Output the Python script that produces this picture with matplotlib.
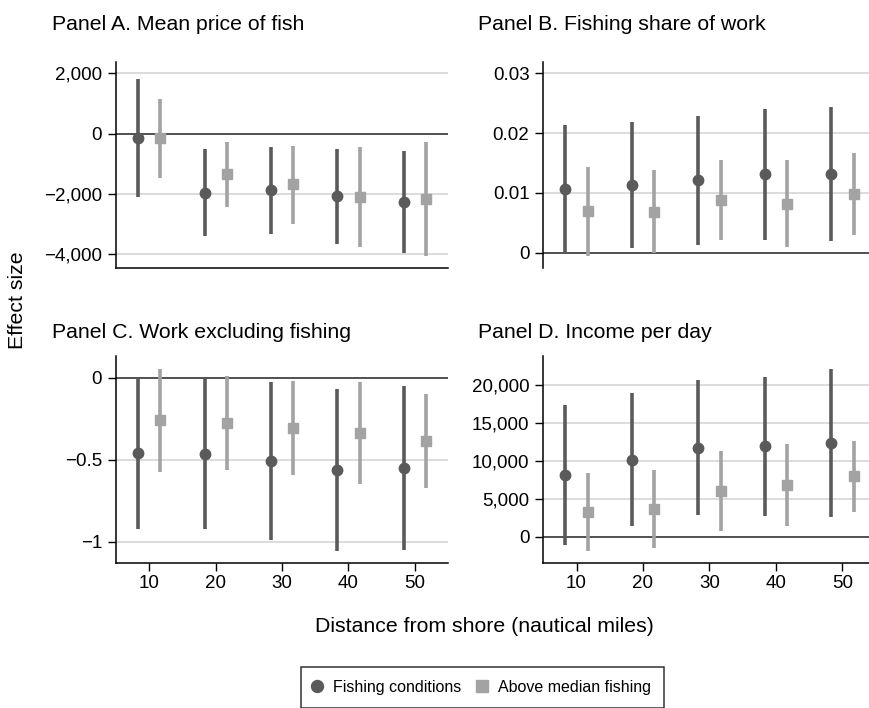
import matplotlib.pyplot as plt
import numpy as np
from matplotlib.lines import Line2D
from matplotlib.ticker import FuncFormatter

plt.rcParams["font.family"] = ["Liberation Sans", "DejaVu Sans"]
plt.rcParams["font.size"] = 13.5

distances = [10, 20, 30, 40, 50]

# Panel A. Mean price of fish
price_cond = [-146, -1960, -1873, -2083, -2272]
price_cond_lo = [-2106, -3402, -3336, -3668, -3967]
price_cond_hi = [1794, -522, -432, -498, -565]
price_med = [-163, -1352, -1684, -2106, -2172]
price_med_lo = [-1485, -2448, -2990, -3777, -4066]
price_med_hi = [1150, -266, -399, -444, -289]

# Panel B. Fishing share of work
share_cond = [0.01065, 0.01132, 0.0121, 0.0131, 0.01316]
share_cond_lo = [0.0, 0.00084, 0.00129, 0.00218, 0.00196]
share_cond_hi = [0.0213, 0.0218, 0.02286, 0.02403, 0.02436]
share_med = [0.00692, 0.00686, 0.0088, 0.0082, 0.00987]
share_med_lo = [-0.0005, 0.0, 0.00218, 0.00095, 0.00301]
share_med_hi = [0.01433, 0.01383, 0.0155, 0.0155, 0.01672]

# Panel C. Work excluding fishing
work_cond = [-0.459, -0.467, -0.508, -0.563, -0.549]
work_cond_lo = [-0.925, -0.925, -0.990, -1.055, -1.049]
work_cond_hi = [0.0, -0.008, -0.028, -0.069, -0.051]
work_med = [-0.260, -0.276, -0.307, -0.335, -0.384]
work_med_lo = [-0.577, -0.563, -0.593, -0.648, -0.675]
work_med_hi = [0.055, 0.008, -0.020, -0.024, -0.098]

# Panel D. Income per day
inc_cond = [8176, 10198, 11780, 11956, 12440]
inc_cond_lo = [-1055, 1495, 2901, 2769, 2637]
inc_cond_hi = [17363, 18945, 20659, 21143, 22198]
inc_med = [3341, 3736, 6066, 6857, 8000]
inc_med_lo = [-1802, -1451, 791, 1407, 3253]
inc_med_hi = [8484, 8835, 11297, 12308, 12703]

DARK = "#5a5a5a"
LIGHT = "#a3a3a3"
W, H = 870, 708
LABEL_SIZE = 15.3


def fmt_thousands(v, _pos):
    s = f"{abs(v):,.0f}"
    return ("\u2212" + s) if v < 0 else s


def fmt_plain(v, _pos):
    s = f"{abs(v):g}"
    return ("\u2212" + s) if v < -1e-12 else s


def draw_panel(ax, cond, clo, chi, med, mlo, mhi, yticks, ylim, fmt):
    x = np.array(distances, dtype=float)
    for xs, val, lo, hi, color, marker, ms in [
        (x - 1.66, cond, clo, chi, DARK, "o", 7.5),
        (x + 1.7, med, mlo, mhi, LIGHT, "s", 6.8),
    ]:
        ax.vlines(xs, lo, hi, color=color, lw=2.6, zorder=3)
        ax.plot(xs, val, linestyle="none", marker=marker, ms=ms,
                color=color, zorder=4)
    ax.set_xlim(5, 55)
    ax.set_ylim(*ylim)
    ax.set_yticks(yticks)
    ax.yaxis.set_major_formatter(FuncFormatter(fmt))
    for t in yticks:
        if t != 0:
            ax.axhline(t, color="#d2d2d2", lw=1.1, zorder=1)
    ax.axhline(0, color="#333333", lw=1.2, zorder=2)
    for side in ["top", "right"]:
        ax.spines[side].set_visible(False)
    ax.spines["left"].set_linewidth(1.1)
    ax.spines["bottom"].set_linewidth(1.1)
    ax.tick_params(axis="y", direction="out", length=6, width=1, pad=4)
    ax.tick_params(axis="x", direction="out", length=6, width=1, pad=3)


def axes_rect(left, right, top, bottom):
    return [left / W, 1 - bottom / H, (right - left) / W, (bottom - top) / H]


fig = plt.figure(figsize=(W / 100, H / 100), dpi=100)

ax_a = fig.add_axes(axes_rect(116, 448, 62, 268))
ax_b = fig.add_axes(axes_rect(543.3, 875.5, 62, 268))
ax_c = fig.add_axes(axes_rect(116, 448, 356, 563))
ax_d = fig.add_axes(axes_rect(543.3, 875.5, 356, 563))

draw_panel(ax_a, price_cond, price_cond_lo, price_cond_hi,
           price_med, price_med_lo, price_med_hi,
           [-4000, -2000, 0, 2000], (-4465, 2375), fmt_thousands)
draw_panel(ax_b, share_cond, share_cond_lo, share_cond_hi,
           share_med, share_med_lo, share_med_hi,
           [0, 0.01, 0.02, 0.03], (-0.00256, 0.0319), fmt_plain)
draw_panel(ax_c, work_cond, work_cond_lo, work_cond_hi,
           work_med, work_med_lo, work_med_hi,
           [-1, -0.5, 0], (-1.13, 0.132), fmt_plain)
draw_panel(ax_d, inc_cond, inc_cond_lo, inc_cond_hi,
           inc_med, inc_med_lo, inc_med_hi,
           [0, 5000, 10000, 15000, 20000], (-3430, 23865), fmt_thousands)

for ax in (ax_a, ax_b):
    ax.set_xticks([])
ax_b.spines["bottom"].set_visible(False)
for ax in (ax_c, ax_d):
    ax.set_xticks(distances)

titles = [
    (52, 30, "Panel A. Mean price of fish"),
    (478, 30, "Panel B. Fishing share of work"),
    (52, 338, "Panel C. Work excluding fishing"),
    (478, 338, "Panel D. Income per day"),
]
for px, py, txt in titles:
    fig.text(px / W, 1 - py / H, txt, ha="left", va="baseline",
             fontsize=LABEL_SIZE)

fig.text(18 / W, 1 - 300 / H, "Effect size", rotation=90,
         ha="center", va="center", fontsize=LABEL_SIZE)
fig.text(484 / W, 1 - 626 / H, "Distance from shore (nautical miles)",
         ha="center", va="center", fontsize=LABEL_SIZE)

handles = [
    Line2D([], [], linestyle="none", marker="o", ms=8.6, color=DARK),
    Line2D([], [], linestyle="none", marker="s", ms=8.0, color=LIGHT),
]
leg = fig.legend(handles, ["Fishing conditions", "Above median fishing"],
                 loc="upper center", bbox_to_anchor=(482.5 / W, 1 - 667 / H),
                 ncol=2, frameon=True, fancybox=False, fontsize=11.5,
                 handletextpad=0.8, columnspacing=1.1, borderpad=0.8,
                 handlelength=0.4, borderaxespad=0)
leg.get_frame().set_edgecolor("black")
leg.get_frame().set_linewidth(1.1)

fig.savefig("out.png", dpi=100)
